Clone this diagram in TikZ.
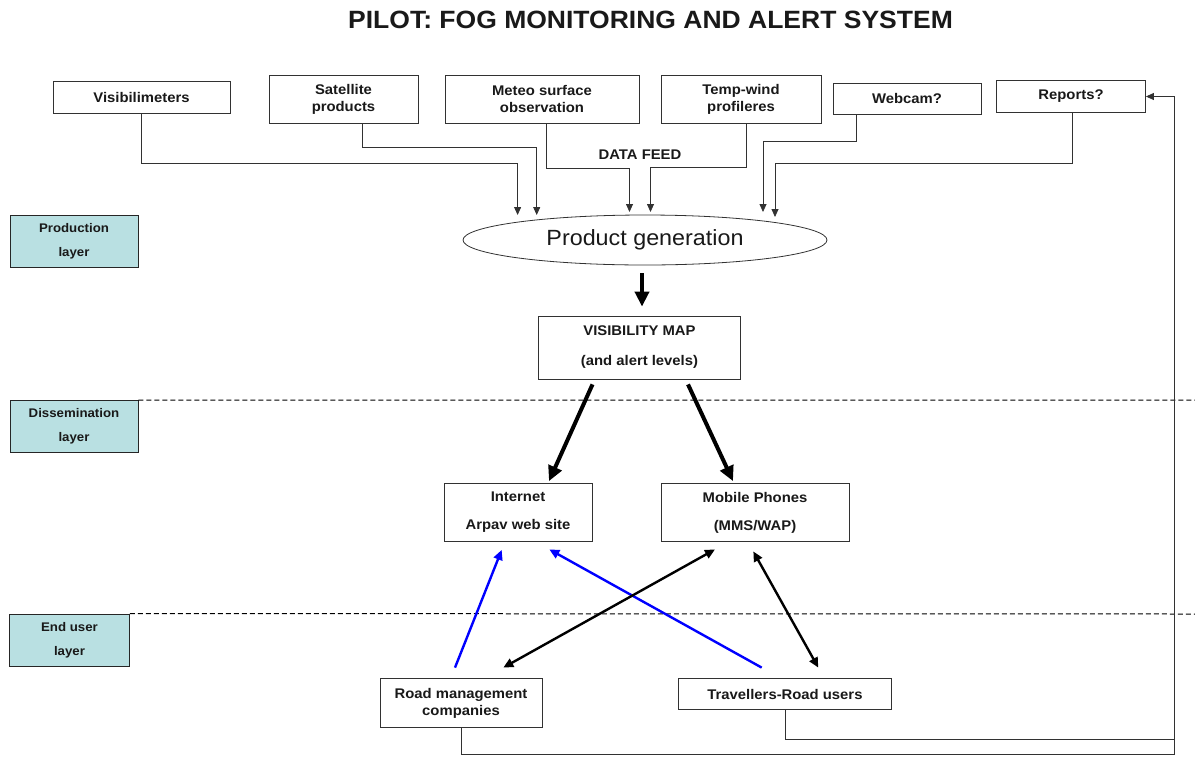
\documentclass[tikz,border=0pt]{standalone}
\usepackage{fontspec}
\setmainfont{Liberation Sans}[FakeStretch=1.06]
\usetikzlibrary{arrows.meta,shapes.geometric,calc}
\definecolor{layercol}{RGB}{185,224,226}
\definecolor{txt}{RGB}{25,25,25}
\definecolor{lineg}{RGB}{50,50,50}
\definecolor{arrblue}{RGB}{0,0,255}
\tikzset{
  box/.style={draw=lineg, line width=0.8pt, fill=white, align=center, text=txt,
    font=\bfseries\fontsize{14}{17}\selectfont, inner sep=0pt},
  layer/.style={draw=black!85, fill=layercol, line width=0.8pt, align=center, text=txt,
    font=\bfseries\fontsize{12.5}{24}\selectfont, inner sep=0pt,
    minimum width=128pt, minimum height=52pt},
  feed/.style={draw=lineg, line width=0.8pt, -{Triangle[length=8pt,width=7pt]}},
  bigarrow/.style={draw=black, line width=4pt, -{Triangle[length=15pt,width=14pt]}},
  midarrow/.style={line width=2.4pt, -{Triangle[length=10pt,width=9pt]}},
  dblarrow/.style={line width=2.4pt, {Triangle[length=10pt,width=9pt]}-{Triangle[length=10pt,width=9pt]}},
  layersep/.style={draw=black, line width=1pt, dash pattern=on 5pt off 3pt}
}
\begin{document}
\begin{tikzpicture}[x=1pt,y=-1pt]
\useasboundingbox (0,0) rectangle (1195,756);

% title
\node[font=\bfseries\fontsize{25}{30}\selectfont, text=txt] (title) at (650.5,20) {PILOT: FOG MONITORING AND ALERT SYSTEM};

% data sources
\node[box, minimum width=177pt, minimum height=32pt] (vis) at (141.5,97) {Visibilimeters};
\node[box, minimum width=149pt, minimum height=48pt] (sat) at (343.5,99) {Satellite\\products};
\node[box, minimum width=194pt, minimum height=48pt] (met) at (542,99) {Meteo surface\\observation};
\node[box, minimum width=160pt, minimum height=48pt] (tmp) at (741,99) {Temp-wind\\profileres};
\node[box, minimum width=148pt, minimum height=31pt] (web) at (907,98.5) {Webcam?};
\node[box, minimum width=149pt, minimum height=32pt] (rep) at (1071,96.5) {Reports?};

\node[font=\bfseries\fontsize{14}{16}\selectfont, text=txt] (feedlbl) at (640,155) {DATA FEED};

% product generation
\node[draw=lineg, line width=0.8pt, ellipse, minimum width=364pt, minimum height=50pt, inner sep=0pt,
  font=\fontsize{22}{26}\selectfont, text=txt] (pg) at (645,240) {Product generation};

% arrow tips on the ellipse
\coordinate (t1) at (517.6,215);
\coordinate (t2) at (536.7,215);
\coordinate (t3) at (629.5,212);
\coordinate (t4) at (650.5,212);
\coordinate (t5) at (763,212);
\coordinate (t6) at (775,217);

\draw[feed] (vis.south) -- ++(0,49.7) -| (t1);
\draw[feed] ($(sat.south)+(19,0)$) -- ++(0,24.3) -| (t2);
\draw[feed] ($(met.south)+(4.3,0)$) -- ++(0,45) -| (t3);
\draw[feed] ($(tmp.south)+(5,0)$) -- ++(0,44) -| (t4);
\draw[feed] ($(web.south)+(-51,0)$) -- ++(0,26.7) -| (t5);
\draw[feed] ($(rep.south)+(1.5,0)$) -- ++(0,50.2) -| (t6);

% visibility map
\node[box, minimum width=202pt, minimum height=63pt, font=\bfseries\fontsize{14}{30}\selectfont] (vmap) at (639.5,347.5) {VISIBILITY MAP\\(and alert levels)};
\draw[bigarrow] ($(pg.south)+(-3,8)$) -- ($(vmap.north)+(2.5,-9)$);

% layers
\node[layer] (prod) at (74,241.5) {Production\\layer};
\node[layer] (diss) at (74,426.5) {Dissemination\\layer};
\node[layer, minimum width=120pt] (endu) at (69.5,640) {End user\\layer};
\draw[layersep] (diss.north east) -- (1195,400);
\draw[layersep] (endu.north east) -- (1195,614);

% dissemination boxes
\node[box, minimum width=148pt, minimum height=58pt, font=\bfseries\fontsize{14}{28}\selectfont] (inet) at (518,512.5) {Internet\\Arpav web site};
\node[box, minimum width=188pt, minimum height=58pt, font=\bfseries\fontsize{14}{28}\selectfont] (mob) at (755,512.5) {Mobile Phones\\(MMS/WAP)};

\draw[bigarrow] ($(vmap.south)+(-47,5)$) -- ($(inet.north)+(31,-2)$);
\draw[bigarrow] ($(vmap.south)+(48.5,5)$) -- ($(mob.north)+(-22,-2)$);

% end users
\node[box, minimum width=162pt, minimum height=49pt, font=\bfseries\fontsize{14}{17}\selectfont] (road) at (461,703) {Road management\\companies};
\node[box, minimum width=213pt, minimum height=31pt] (trav) at (785,694) {Travellers-Road users};

\draw[midarrow, draw=arrblue, fill=arrblue] ($(road.north)+(-6,-10.5)$) -- ($(inet.south)+(-16.3,8)$);
\draw[midarrow, draw=arrblue, fill=arrblue] ($(trav.north)+(-23.3,-10.5)$) -- ($(inet.south)+(31.3,7.5)$);
\draw[dblarrow] ($(road.north)+(42.3,-10.5)$) -- ($(mob.south)+(-40,7.5)$);
\draw[dblarrow] ($(mob.south)+(-1.7,9.5)$) -- ($(trav.north)+(33.3,-10.5)$);

% feedback loop
\coordinate (fb) at (1174,754);
\coordinate (fbt) at (1174,739);
\draw[feed] (road.south) |- (fb) |- (rep.east);
\draw[draw=lineg, line width=0.8pt] (trav.south) |- (fbt);
\end{tikzpicture}
\end{document}
